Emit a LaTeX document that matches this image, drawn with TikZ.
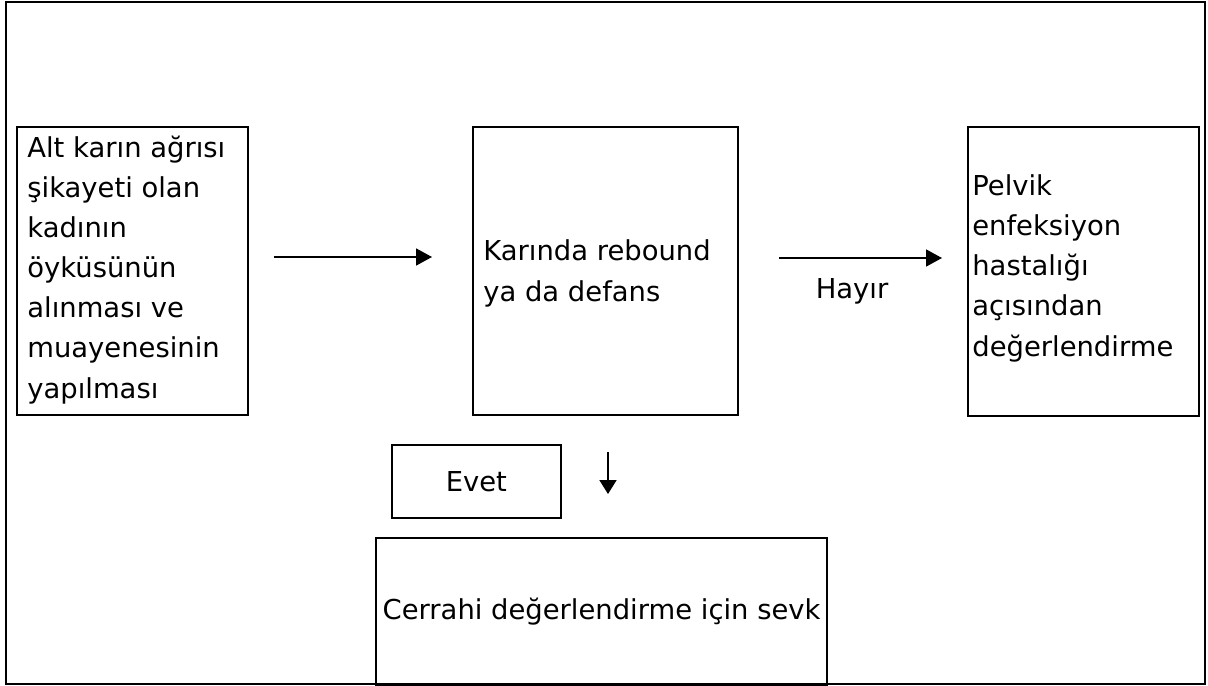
\documentclass[tikz,border=0pt]{standalone}
\usepackage{fontspec}
\setmainfont{DejaVu Sans}
\usepackage{tikz}
\usetikzlibrary{positioning,arrows.meta}

\begin{document}
\begin{tikzpicture}[x=0.02cm, y=-0.02cm,
  font=\fontsize{15.6}{22.8}\selectfont,
  box/.style={draw, line width=1.3pt, anchor=north west, inner sep=0pt},
  txt/.style={anchor=base west, align=left, inner sep=0pt},
  arr/.style={line width=1pt, -{Triangle[length=0.32cm, width=0.34cm]}}]
\useasboundingbox (0,0) rectangle (1208,686);
\draw[line width=1.3pt] (6,2) rectangle (1205,684);
% boxes
\node[box, minimum width=4.62cm, minimum height=5.76cm] (oyku) at (16,126) {};
\node[box, minimum width=5.30cm, minimum height=5.76cm] (rebound) at (472,126) {};
\node[box, minimum width=4.62cm, minimum height=5.78cm] (pelvik) at (967,126) {};
\node[box, line width=1pt, minimum width=3.38cm, minimum height=1.46cm] (evet) at (391,444) {Evet};
\node[box, minimum width=9.02cm, minimum height=2.94cm] (cerrahi) at (375,537) {Cerrahi değerlendirme için sevk};
% box texts (anchored at the last line)
\node[txt] (oykutxt) at (27,398) {Alt karın ağrısı\\şikayeti olan\\kadının\\öyküsünün\\alınması ve\\muayenesinin\\yapılması};
\node[txt] (reboundtxt) at (483,301) {Karında rebound\\ya da defans};
\node[txt] (pelviktxt) at (972,356) {Pelvik\\enfeksiyon\\hastalığı\\açısından\\değerlendirme};
\node[anchor=base, inner sep=0pt] (hayir) at (852,298) {Hayır};
% arrow ends
\coordinate (a1) at (274,257); \coordinate (a2) at (432,257);
\coordinate (b1) at (779,258); \coordinate (b2) at (942,258);
\coordinate (c1) at (608,452); \coordinate (c2) at (608,494);
\draw[arr] (a1) -- (a2);
\draw[arr] (b1) -- (b2);
\draw[arr, -{Triangle[length=0.28cm, width=0.34cm]}] (c1) -- (c2);
\end{tikzpicture}
\end{document}
